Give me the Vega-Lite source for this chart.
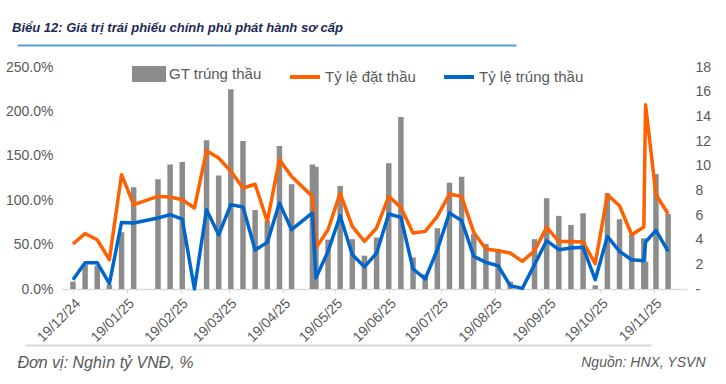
{
  "$schema": "https://vega.github.io/schema/vega-lite/v6.json",
  "width": 626,
  "height": 222,
  "autosize": {"type": "none"},
  "padding": {"left": 61, "top": 67, "right": 39, "bottom": 95},
  "background": "white",
  "config": {
    "view": {"stroke": null},
    "font": "Liberation Sans",
    "axis": {"labelFont": "Liberation Sans", "labelFontSize": 14, "labelColor": "#595959", "grid": false}
  },
  "title": {
    "text": "Biểu 12: Giá trị trái phiếu chính phủ phát hành sơ cấp",
    "anchor": "start",
    "frame": "group",
    "dx": -49,
    "dy": -2,
    "font": "Liberation Sans",
    "fontSize": 13,
    "fontStyle": "italic",
    "fontWeight": "bold",
    "color": "#1c2b55",
    "offset": 8
  },
  "data": {
    "values": [
      {"date": "2024-12-19", "gt": 0.6, "dat": 0.507, "trung": 0.105},
      {"date": "2024-12-26", "gt": 2.0, "dat": 0.623, "trung": 0.296},
      {"date": "2025-01-02", "gt": 1.9, "dat": 0.555, "trung": 0.296},
      {"date": "2025-01-09", "gt": 0.35, "dat": 0.33, "trung": 0.06},
      {"date": "2025-01-16", "gt": 4.6, "dat": 1.287, "trung": 0.75},
      {"date": "2025-01-23", "gt": 8.25, "dat": 0.95, "trung": 0.743},
      {"date": "2025-02-06", "gt": 8.9, "dat": 1.043, "trung": 0.8},
      {"date": "2025-02-13", "gt": 10.1, "dat": 1.036, "trung": 0.838},
      {"date": "2025-02-20", "gt": 10.3, "dat": 1.006, "trung": 0.788},
      {"date": "2025-02-27", "gt": 0, "dat": 0.912, "trung": 0.0},
      {"date": "2025-03-06", "gt": 12.07, "dat": 1.557, "trung": 0.893},
      {"date": "2025-03-13", "gt": 9.2, "dat": 1.475, "trung": 0.61},
      {"date": "2025-03-20", "gt": 16.2, "dat": 1.325, "trung": 0.95},
      {"date": "2025-03-27", "gt": 12.0, "dat": 1.137, "trung": 0.923},
      {"date": "2025-04-03", "gt": 6.4, "dat": 1.18, "trung": 0.44},
      {"date": "2025-04-10", "gt": 5.5, "dat": 0.76, "trung": 0.525},
      {"date": "2025-04-17", "gt": 11.6, "dat": 1.456, "trung": 0.968},
      {"date": "2025-04-24", "gt": 8.5, "dat": 1.268, "trung": 0.668},
      {"date": "2025-05-06", "gt": 10.1, "dat": 1.043, "trung": 0.856},
      {"date": "2025-05-08", "gt": 9.9, "dat": 0.46, "trung": 0.124},
      {"date": "2025-05-15", "gt": 4.0, "dat": 0.668, "trung": 0.423},
      {"date": "2025-05-22", "gt": 8.35, "dat": 1.08, "trung": 0.825},
      {"date": "2025-05-29", "gt": 4.04, "dat": 0.705, "trung": 0.386},
      {"date": "2025-06-05", "gt": 2.7, "dat": 0.536, "trung": 0.25},
      {"date": "2025-06-12", "gt": 4.17, "dat": 0.687, "trung": 0.405},
      {"date": "2025-06-19", "gt": 10.2, "dat": 1.043, "trung": 0.844},
      {"date": "2025-06-26", "gt": 13.95, "dat": 0.919, "trung": 0.806},
      {"date": "2025-07-03", "gt": 2.56, "dat": 0.63, "trung": 0.225},
      {"date": "2025-07-10", "gt": 1.2, "dat": 0.649, "trung": 0.113},
      {"date": "2025-07-17", "gt": 4.93, "dat": 0.818, "trung": 0.443},
      {"date": "2025-07-24", "gt": 8.62, "dat": 1.07, "trung": 0.856},
      {"date": "2025-07-31", "gt": 9.1, "dat": 1.04, "trung": 0.77},
      {"date": "2025-08-07", "gt": 4.47, "dat": 0.637, "trung": 0.367},
      {"date": "2025-08-14", "gt": 3.66, "dat": 0.45, "trung": 0.3},
      {"date": "2025-08-21", "gt": 3.23, "dat": 0.431, "trung": 0.262},
      {"date": "2025-08-28", "gt": 0.6, "dat": 0.405, "trung": 0.037},
      {"date": "2025-09-04", "gt": 0, "dat": 0.311, "trung": 0.007},
      {"date": "2025-09-11", "gt": 4.04, "dat": 0.431, "trung": 0.274},
      {"date": "2025-09-18", "gt": 7.36, "dat": 0.694, "trung": 0.544},
      {"date": "2025-09-25", "gt": 5.93, "dat": 0.536, "trung": 0.443},
      {"date": "2025-10-02", "gt": 5.2, "dat": 0.536, "trung": 0.462},
      {"date": "2025-10-09", "gt": 6.14, "dat": 0.528, "trung": 0.469},
      {"date": "2025-10-16", "gt": 0.3, "dat": 0.285, "trung": 0.105},
      {"date": "2025-10-23", "gt": 7.76, "dat": 1.062, "trung": 0.592},
      {"date": "2025-10-30", "gt": 5.66, "dat": 0.938, "trung": 0.423},
      {"date": "2025-11-06", "gt": 4.39, "dat": 0.611, "trung": 0.33},
      {"date": "2025-11-13", "gt": 4.12, "dat": 0.698, "trung": 0.319},
      {"date": "2025-11-14", "gt": 2.2, "dat": 2.075, "trung": 0.529},
      {"date": "2025-11-20", "gt": 9.32, "dat": 1.062, "trung": 0.66},
      {"date": "2025-11-27", "gt": 6.09, "dat": 0.848, "trung": 0.423}
    ]
  },
  "layer": [
    {
      "mark": {"type": "bar", "size": 5.5},
      "encoding": {
        "x": {
          "field": "date",
          "type": "temporal",
          "scale": {
            "type": "utc",
            "domain": [
              {"year": 2024, "month": 12, "date": 15, "utc": true},
              {"year": 2025, "month": 12, "date": 5, "utc": true}
            ]
          },
          "axis": {
            "values": [
              {"year": 2024, "month": 12, "date": 19, "utc": true},
              {"year": 2025, "month": 1, "date": 19, "utc": true},
              {"year": 2025, "month": 2, "date": 19, "utc": true},
              {"year": 2025, "month": 3, "date": 19, "utc": true},
              {"year": 2025, "month": 4, "date": 19, "utc": true},
              {"year": 2025, "month": 5, "date": 19, "utc": true},
              {"year": 2025, "month": 6, "date": 19, "utc": true},
              {"year": 2025, "month": 7, "date": 19, "utc": true},
              {"year": 2025, "month": 8, "date": 19, "utc": true},
              {"year": 2025, "month": 9, "date": 19, "utc": true},
              {"year": 2025, "month": 10, "date": 19, "utc": true},
              {"year": 2025, "month": 11, "date": 19, "utc": true}
            ],
            "format": "%d/%m/%y",
            "labelAngle": -45,
            "labelPadding": 3,
            "ticks": true,
            "tickSize": 4,
            "tickColor": "#d9d9d9",
            "domainColor": "#d9d9d9",
            "domainWidth": 1.5,
            "title": null
          }
        },
        "y": {
          "field": "gt",
          "type": "quantitative",
          "scale": {"domain": [0, 18]},
          "axis": {
            "orient": "right",
            "values": [0, 2, 4, 6, 8, 10, 12, 14, 16, 18],
            "labelExpr": "datum.value == 0 ? '-' : datum.label",
            "domain": false,
            "ticks": false,
            "labelPadding": 8,
            "title": "Nguồn: HNX, YSVN",
            "titleAngle": 0,
            "titleX": 18,
            "titleY": 295,
            "titleAlign": "right",
            "titleBaseline": "middle",
            "titleFont": "Liberation Sans",
            "titleFontStyle": "italic",
            "titleFontWeight": "normal",
            "titleFontSize": 14,
            "titleColor": "#595959"
          }
        },
        "color": {
          "datum": "GT trúng thầu",
          "type": "nominal",
          "scale": {
            "domain": ["GT trúng thầu", "Tỷ lệ đặt thầu", "Tỷ lệ trúng thầu"],
            "range": ["#8c8c8c", "#ff6000", "#0066cc"]
          },
          "legend": {
            "orient": "none",
            "legendX": 71,
            "legendY": -10,
            "direction": "horizontal",
            "title": null,
            "labelFont": "Liberation Sans",
            "labelFontSize": 15,
            "labelColor": "#595959",
            "symbolSize": 900,
            "columnPadding": 20,
            "labelOffset": 3,
            "encode": {
              "symbols": {
                "update": {
                  "shape": {"signal": "datum.value === 'GT trúng thầu' ? 'M-1,-0.4H1V0.4H-1Z' : 'stroke'"},
                  "fill": {"signal": "datum.value === 'GT trúng thầu' ? '#8c8c8c' : 'transparent'"},
                  "stroke": {"signal": "datum.value === 'GT trúng thầu' ? 'transparent' : (datum.value === 'Tỷ lệ đặt thầu' ? '#ff6000' : '#0066cc')"},
                  "strokeWidth": {"value": 4},
                  "opacity": {"value": 1}
                }
              }
            }
          }
        }
      }
    },
    {
      "mark": {"type": "line", "strokeWidth": 3.5, "strokeJoin": "round"},
      "encoding": {
        "x": {
          "field": "date",
          "type": "temporal",
          "axis": {
            "orient": "top",
            "labels": false,
            "ticks": false,
            "domain": true,
            "domainColor": "#5b9bd5",
            "domainWidth": 2,
            "domainDash": [499, 1000],
            "offset": 22,
            "position": -44,
            "title": null
          }
        },
        "y": {
          "field": "dat",
          "type": "quantitative",
          "scale": {"domain": [0, 2.5]},
          "axis": {
            "orient": "left",
            "values": [0, 0.5, 1, 1.5, 2, 2.5],
            "format": ".1%",
            "domain": false,
            "ticks": false,
            "labelPadding": 8,
            "title": "Đơn vị: Nghìn tỷ VNĐ, %",
            "titleAngle": 0,
            "titleX": -44,
            "titleY": 295,
            "titleAlign": "left",
            "titleBaseline": "middle",
            "titleFont": "Liberation Sans",
            "titleFontStyle": "italic",
            "titleFontWeight": "normal",
            "titleFontSize": 16,
            "titleColor": "#595959"
          }
        },
        "color": {"datum": "Tỷ lệ đặt thầu", "type": "nominal"}
      }
    },
    {
      "mark": {"type": "line", "strokeWidth": 3.5, "strokeJoin": "round"},
      "encoding": {
        "x": {
          "field": "date",
          "type": "temporal",
          "axis": {
            "orient": "bottom",
            "labels": false,
            "ticks": false,
            "domain": true,
            "domainColor": "#dadada",
            "domainWidth": 2,
            "offset": 56,
            "position": -36,
            "title": null
          }
        },
        "y": {
          "field": "trung",
          "type": "quantitative",
          "scale": {"domain": [0, 2.5]},
          "axis": null
        },
        "color": {"datum": "Tỷ lệ trúng thầu", "type": "nominal"}
      }
    }
  ],
  "resolve": {"scale": {"y": "independent"}, "axis": {"x": "independent", "y": "independent"}}
}
